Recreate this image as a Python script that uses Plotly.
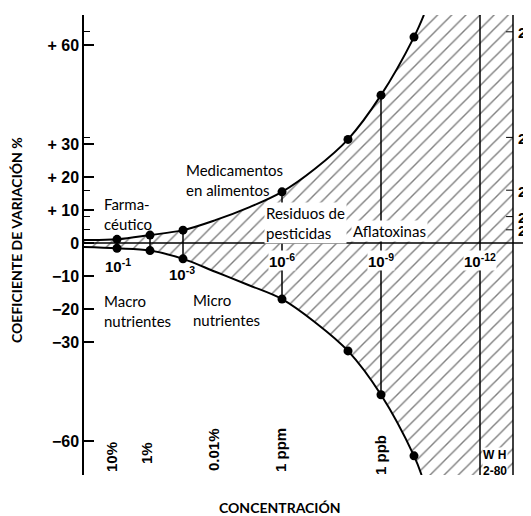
import plotly.graph_objects as go

# ---- data ----
decades = [1, 2, 3, 6, 8, 9, 10]                      # -log10(concentration)
cv_top_points = [1.1, 2.4, 3.9, 15.5, 31.4, 44.8, 62.4]
cv_bot_points = [-1.6, -2.3, -4.8, -17.0, -32.7, -46.0, -64.5]

curve_top_x = [0, 1, 2, 3, 4, 5, 6, 7, 8, 9, 10, 10.3]
curve_top_y = [0.9, 1.1, 2.4, 3.9, 7.0, 10.8, 15.5, 22.5, 31.4, 44.8, 62.4, 69.1]
curve_bot_x = [0, 1, 2, 3, 4, 5, 6, 7, 8, 9, 10, 10.23]
curve_bot_y = [-1.2, -1.6, -2.3, -4.8, -8.8, -12.8, -17.0, -24.0, -32.7, -46.0, -64.5, -70.3]

y_tick_vals = [60, 30, 20, 10, 0, -10, -20, -30, -60]
y_tick_text = ["+ 60", "+ 30", "+ 20", "+ 10", "0", "\u221210", "\u221220", "\u221230", "\u221260"]
pow2_vals = [64, 32, 16, 8, 4]
pow2_text = ["2<sup>6</sup>", "2<sup>5</sup>", "2<sup>4</sup>", "2<sup>3</sup>", "2<sup>2</sup>"]

decade_labels = [1, 3, 6, 9, 12]
decade_text = ["10<sup>-1</sup>", "10<sup>-3</sup>", "10<sup>-6</sup>", "10<sup>-9</sup>", "10<sup>-12</sup>"]
conc_text = ["10%", "1%", "0.01%", "1 ppm", "1 ppb"]

# ---- layout geometry (page body has an 8px margin) ----
OFF = 8
W, H = 531 - OFF, 516 - OFF
L, R, T, B = 84 - OFF, 0, 15 - OFF, 41
XMAX = (531 - 84) / 33.0
YTOP = (243 - 15) / 3.3
YBOT = (243 - 475) / 3.3
X_RIGHT = 13
X_WH = 12


def P(px, py):
    return ((px - 84) / 33.0, (243 - py) / 3.3)


def paper(px, py):
    return ((px - 84) / (531 - 84), (475 - py) / (475 - 15))


fig = go.Figure()

# hatched background region
fig.add_trace(go.Scatter(
    x=[0, X_RIGHT, X_RIGHT, 0, 0], y=[YBOT, YBOT, YTOP, YTOP, YBOT],
    mode="lines", line=dict(width=0), fill="toself", fillcolor="white",
    fillpattern=dict(shape="/", size=10, solidity=0.14, fgcolor="black", bgcolor="white"),
    hoverinfo="skip", showlegend=False))

# white outside the top curve
fig.add_trace(go.Scatter(x=[0, curve_top_x[-1]], y=[YTOP, YTOP], mode="lines",
                         line=dict(width=0), showlegend=False, hoverinfo="skip"))
fig.add_trace(go.Scatter(x=curve_top_x, y=curve_top_y, mode="lines",
                         line=dict(color="black", width=2, shape="spline"),
                         fill="tonexty", fillcolor="white", showlegend=False))
# white outside the bottom curve
fig.add_trace(go.Scatter(x=[0, curve_bot_x[-1]], y=[YBOT, YBOT], mode="lines",
                         line=dict(width=0), showlegend=False, hoverinfo="skip"))
fig.add_trace(go.Scatter(x=curve_bot_x, y=curve_bot_y, mode="lines",
                         line=dict(color="black", width=2, shape="spline"),
                         fill="tonexty", fillcolor="white", showlegend=False))

# vertical connectors between points
for d, t, b in zip(decades, cv_top_points, cv_bot_points):
    if d in (1, 2, 3, 6, 9):
        fig.add_shape(type="line", x0=d, x1=d, y0=b, y1=t, line=dict(color="black", width=1.5))

# full-height vertical lines
for xv in (X_WH, X_RIGHT):
    fig.add_shape(type="line", x0=xv, x1=xv, y0=YBOT, y1=YTOP, line=dict(color="black", width=1.5))

# zero axis
fig.add_shape(type="line", x0=0, x1=XMAX, y0=0, y1=0, line=dict(color="black", width=1.5))

# short ticks on right line
for v in pow2_vals:
    fig.add_shape(type="line", x0=X_RIGHT - 0.21, x1=X_RIGHT, y0=v, y1=v, line=dict(color="black", width=1))

# points
fig.add_trace(go.Scatter(x=decades + decades, y=cv_top_points + cv_bot_points, mode="markers",
                         marker=dict(color="black", size=9), showlegend=False))

bold_font = dict(family="Liberation Sans", size=16, color="black", weight="bold")
lab_font = dict(family="Lato", size=15, color="black")

# decade labels
decade_py = [265, 273, 260, 260, 260]
decade_px = [118, 182, 282, 381, 480]
for px, py, txt in zip(decade_px, decade_py, decade_text):
    x, y = P(px, py)
    fig.add_annotation(x=x, y=y, text=txt, showarrow=False, xanchor="center", yanchor="middle",
                       font=dict(family="Liberation Sans", size=15, color="black", weight="bold"),
                       bgcolor="white" if px in (282, 381, 480) else None, borderpad=0)

# concentration labels (rotated)
conc_pos = [(111, 457), (146, 453), (213, 450), (280, 450), (380, 455)]
for (px, py), txt in zip(conc_pos, conc_text):
    x, y = P(px, py)
    fig.add_annotation(x=x, y=y, text=txt, showarrow=False, textangle=-90,
                       xanchor="center", yanchor="middle",
                       font=dict(family="Liberation Sans", size=15, color="black", weight="bold"))

# right side 2^n labels (cut by the page edge, as in the reference)
for v, txt in zip(pow2_vals, pow2_text):
    x, _ = P(516, 0)
    fig.add_annotation(x=x, y=v, text=txt, showarrow=False, xanchor="left", yanchor="middle",
                       font=dict(family="Liberation Sans", size=15, color="black", weight="bold"))

# category labels
labels = [
    ("Farma-<br>céutico", 102, 214, False),
    ("Medicamentos<br>en alimentos", 184, 180, False),
    ("Residuos de<br>pesticidas", 264, 223, True),
    ("Aflatoxinas", 351, 231, True),
    ("Macro<br>nutrientes", 102, 311, False),
    ("Micro<br>nutrientes", 191, 310, False),
]
for txt, px, py, bg in labels:
    x, y = P(px, py)
    fig.add_annotation(x=x, y=y, text=txt, showarrow=False, xanchor="left", yanchor="middle",
                       align="left", font=lab_font, bgcolor="white" if bg else None, borderpad=1)

# W H 2-80
x, y = P(482, 463)
fig.add_annotation(x=x, y=y, text="W H<br>2-80", showarrow=False, xanchor="left", yanchor="middle",
                   align="left", font=dict(family="Liberation Sans", size=12, color="black", weight="bold"),
                   bgcolor="white", borderpad=0)

# axis titles
px_, py_ = paper(17, 240)
fig.add_annotation(xref="paper", yref="paper", x=px_, y=py_,
                   text="COEFICIENTE DE VARIACIÓN %", textangle=-90, showarrow=False,
                   xanchor="center", yanchor="middle",
                   font=dict(family="Lato", size=14, color="black", weight="bold"))
px_, py_ = paper(280, 508)
fig.add_annotation(xref="paper", yref="paper", x=px_, y=py_,
                   text="CONCENTRACIÓN", showarrow=False, xanchor="center", yanchor="middle",
                   font=dict(family="Lato", size=14, color="black", weight="bold"))

fig.update_layout(
    width=W, height=H, margin=dict(l=L, r=R, t=T, b=B),
    paper_bgcolor="white", plot_bgcolor="white", showlegend=False,
    xaxis=dict(range=[0, XMAX], visible=False, fixedrange=True),
    yaxis=dict(range=[YBOT, YTOP], showgrid=False, zeroline=False, showline=True,
               linecolor="black", linewidth=1.5, ticks="inside", ticklen=10, tickwidth=1.5,
               tickcolor="black", tickmode="array", tickvals=y_tick_vals, ticktext=y_tick_text,
               tickfont=bold_font, ticklabelstandoff=0,
               minor=dict(tickmode="array", tickvals=pow2_vals, ticks="inside", ticklen=6,
                          tickwidth=1, tickcolor="black", showgrid=False)),
)

fig.write_html("out.html")
